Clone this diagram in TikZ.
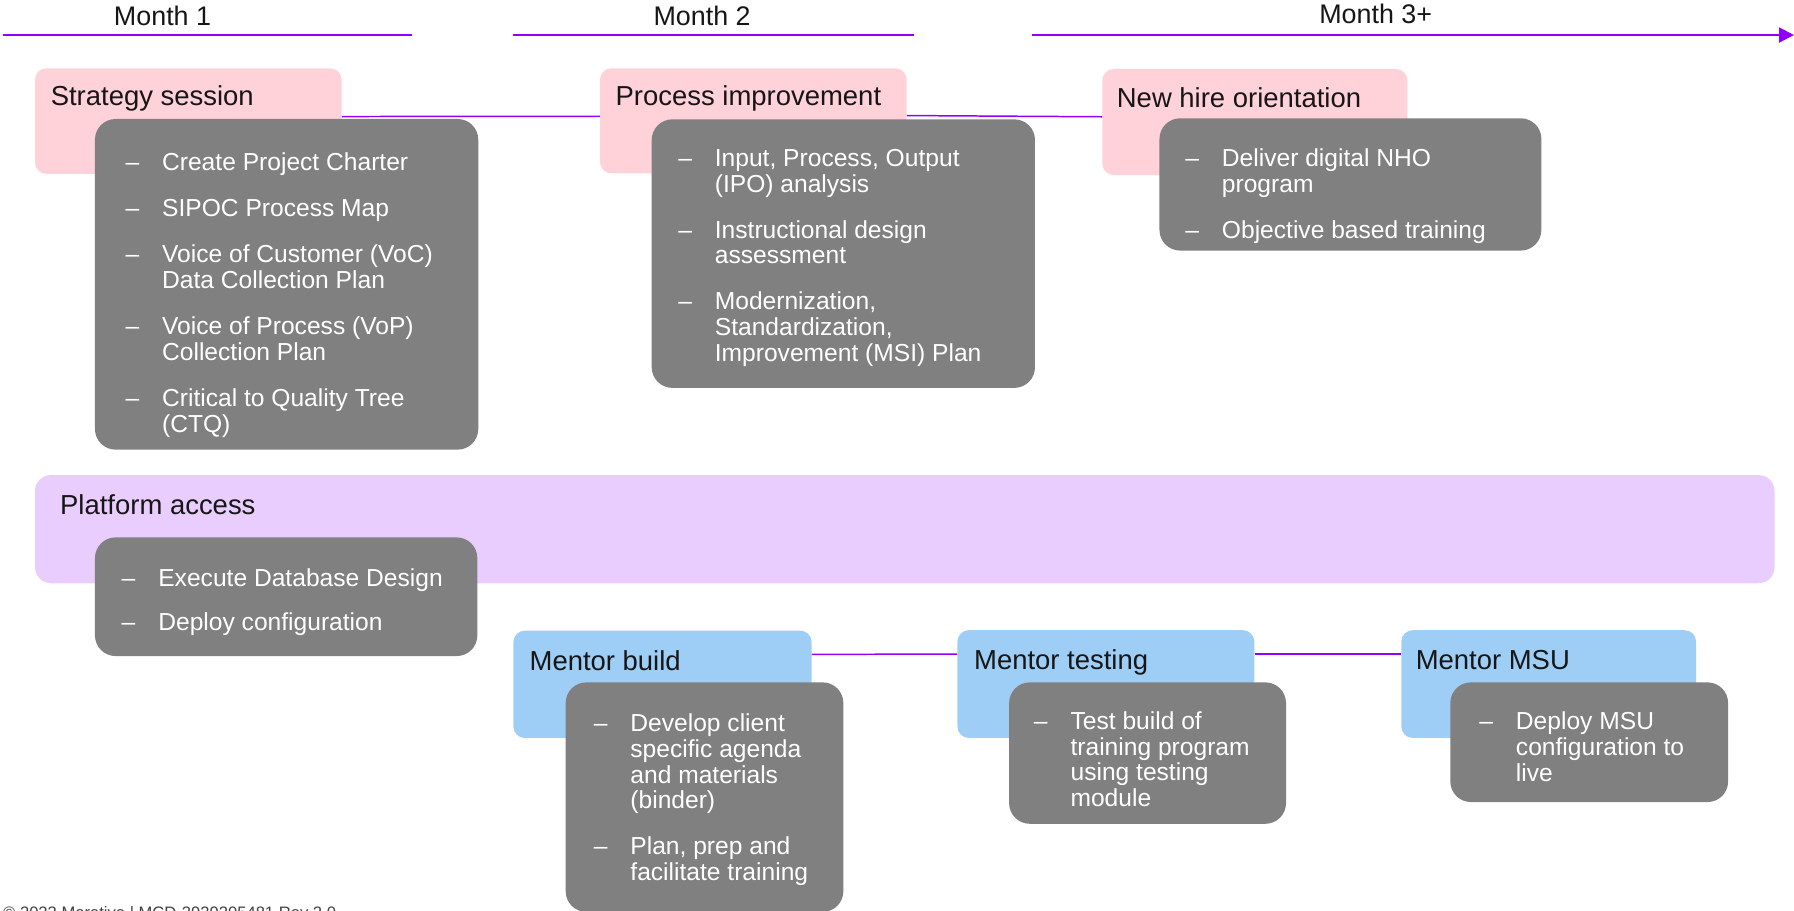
\documentclass[tikz,border=0pt]{standalone}
\usepackage{fontspec}
\setmainfont{Liberation Sans}
\usetikzlibrary{arrows.meta,fit}
\definecolor{tlpurple}{RGB}{145,0,255}
\definecolor{pinkbg}{RGB}{255,209,217}
\definecolor{lilacbg}{RGB}{233,205,254}
\definecolor{bluebg}{RGB}{158,206,246}
\definecolor{graybg}{RGB}{128,128,128}
\definecolor{darktext}{RGB}{22,22,22}
\newlength{\itemgap}
\newcommand{\itemlist}[2]{\setlength{\itemgap}{#1}\begin{tabular}[t]{@{}p{32pt}@{}l@{}}#2\end{tabular}}
\begin{document}
\begin{tikzpicture}[x=1pt,y=-1pt,
  tl/.style={draw=tlpurple,line width=1.75pt},
  conn/.style={draw=tlpurple,line width=1.3pt},
  phase/.style={inner sep=0pt,rounded corners=10pt},
  pinkbox/.style={phase,fill=pinkbg},
  lilacbox/.style={phase,fill=lilacbg,rounded corners=14pt},
  bluebox/.style={phase,fill=bluebg},
  graybox/.style={inner sep=0pt,fill=graybg,rounded corners=18pt},
  month/.style={anchor=base west,inner sep=0pt,text=darktext,font=\fontsize{23.5}{26}\selectfont},
  head/.style={anchor=base west,inner sep=0pt,text=darktext,font=\fontsize{24}{27}\selectfont},
  items/.style={anchor=base west,inner sep=0pt,text=white,font=\fontsize{21.5}{22.5}\selectfont}
]
\useasboundingbox (0,0) rectangle (1568,796);
\clip (0,0) rectangle (1568,796);

% timeline
\coordinate (l1a) at (2.5,30.6);
\coordinate (l1b) at (360.3,30.6);
\coordinate (l2a) at (448.1,30.6);
\coordinate (l2b) at (799.1,30.6);
\coordinate (l3a) at (902.3,30.6);
\coordinate (l3b) at (1568,30.6);
\draw[tl] (l1a) -- (l1b);
\draw[tl] (l2a) -- (l2b);
\draw[tl,-{Triangle[length=13pt,width=13pt]}] (l3a) -- (l3b);
\node[month] (m1) at (99.4,21.9) {Month 1};
\node[month] (m2) at (571,21.9) {Month 2};
\node[month] (m3) at (1152.9,20.4) {Month 3+};

% phase boxes
\node[pinkbox,fit={(30.6,59.7) (298.6,152)}] (pS) {};
\node[pinkbox,fit={(524.4,59.7) (792.5,151.5)}] (pP) {};
\node[pinkbox,fit={(963.5,60.3) (1230.1,153)}] (pN) {};
\node[lilacbox,fit={(30.6,415.2) (1551,509.8)}] (pA) {};
\node[bluebox,fit={(448.7,551.2) (709.4,645)}] (bB) {};
\node[bluebox,fit={(836.8,550.8) (1096.3,645)}] (bT) {};
\node[bluebox,fit={(1224.8,550.8) (1482.4,645)}] (bM) {};

% connectors
\draw[conn] ([yshift=4pt]pS.east) -- ([yshift=4pt]pP.west);
\draw[conn] ([yshift=4.6pt]pP.east) -- ([yshift=4.6pt]pN.west);
\draw[conn] ([yshift=26.2pt]bB.east) -- ([yshift=26.2pt]bT.west);
\draw[conn] ([yshift=26.2pt]bT.east) -- ([yshift=26.2pt]bM.west);

% headings
\node[head] (hS) at (44.2,91.8) {Strategy session};
\node[head] (hP) at (537.9,91.8) {Process improvement};
\node[head] (hN) at (976,93.8) {New hire orientation};
\node[head] (hA) at (52.4,450.1) {Platform access};
\node[head] (hB) at (462.7,585.6) {Mentor build};
\node[head] (hT) at (851.2,585) {Mentor testing};
\node[head] (hM) at (1237.2,585) {Mentor MSU};

% detail boxes
\node[graybox,fit={(83,104) (418,393)}] (gS) {};
\node[graybox,fit={(569.6,104.3) (904.6,339)}] (gP) {};
\node[graybox,fit={(1013.4,103.4) (1347.2,219)}] (gN) {};
\node[graybox,fit={(83,469.7) (417.2,573.4)}] (gA) {};
\node[graybox,fit={(494.4,596.4) (737.1,797)}] (gB) {};
\node[graybox,fit={(882,596.4) (1124,720)}] (gT) {};
\node[graybox,fit={(1267.6,596.4) (1510.4,701)}] (gM) {};

% item lists
\node[items] (iS) at (109.5,148.6) {\itemlist{18pt}{%
 – & Create Project Charter\\[\itemgap]
 – & SIPOC Process Map\\[\itemgap]
 – & Voice of Customer (VoC)\\
   & Data Collection Plan\\[\itemgap]
 – & Voice of Process (VoP)\\
   & Collection Plan\\[\itemgap]
 – & Critical to Quality Tree\\
   & (CTQ)}};
\node[items] (iP) at (592.6,145.7) {\itemlist{17.5pt}{%
 – & Input, Process, Output\\
   & (IPO) analysis\\[\itemgap]
 – & Instructional design\\
   & assessment\\[\itemgap]
 – & Modernization,\\
   & Standardization,\\
   & Improvement (MSI) Plan}};
\node[items] (iN) at (1035.8,145.7) {\itemlist{18pt}{%
 – & Deliver digital NHO\\
   & program\\[\itemgap]
 – & Objective based training}};
\node[items] (iA) at (106.2,512.2) {\itemlist{16.5pt}{%
 – & Execute Database Design\\[\itemgap]
 – & Deploy configuration}};
\node[items] (iB) at (518.8,639.5) {\itemlist{17.5pt}{%
 – & Develop client\\
   & specific agenda\\
   & and materials\\
   & (binder)\\[\itemgap]
 – & Plan, prep and\\
   & facilitate training}};
\node[items] (iT) at (903.5,637.5) {\itemlist{17pt}{%
 – & Test build of\\
   & training program\\
   & using testing\\
   & module}};
\node[items] (iM) at (1292.8,638) {\itemlist{17pt}{%
 – & Deploy MSU\\
   & configuration to\\
   & live}};

% footer
\node[anchor=base west,inner sep=0pt,text=black!75,font=\fontsize{14.5}{16}\selectfont] (foot) at (2.6,802.9) {© 2023 Merative | MCD-3939305481 Rev 2.0};
\end{tikzpicture}
\end{document}
